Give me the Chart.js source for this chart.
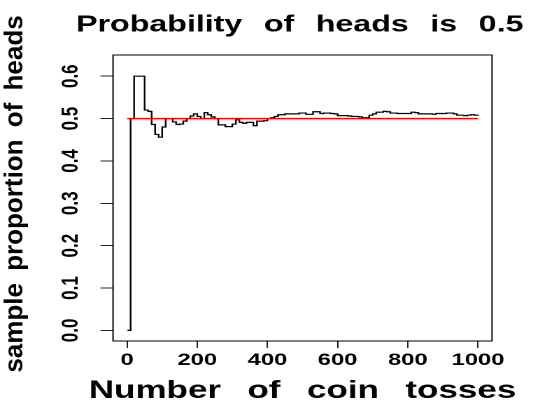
<!DOCTYPE html>
<html>
<head>
<meta charset="utf-8">
<script src="https://cdn.jsdelivr.net/npm/chart.js@4.4.1/dist/chart.umd.min.js"></script>
<style>
  html, body { margin: 0; padding: 0; background: #fff; }
  #coinChart { display: block; }
</style>
</head>
<body>
<!-- drawn narrow, then stretched sideways like the original picture -->
<canvas id="coinChart" width="381" height="407" style="width:533px;height:407px"></canvas>
<script>
const tosses = [1, 10, 20, 30, 40, 50, 60, 70, 80, 90, 100,
  110, 120, 130, 140, 150, 160, 170, 180, 190, 200,
  210, 220, 230, 240, 250, 260, 270, 280, 290, 300,
  310, 320, 330, 340, 350, 360, 370, 380, 390, 400,
  410, 420, 430, 440, 450, 460, 470, 480, 490, 500,
  510, 520, 530, 540, 550, 560, 570, 580, 590, 600,
  610, 620, 630, 640, 650, 660, 670, 680, 690, 700,
  710, 720, 730, 740, 750, 760, 770, 780, 790, 800,
  810, 820, 830, 840, 850, 860, 870, 880, 890, 900,
  910, 920, 930, 940, 950, 960, 970, 980, 990, 1000];
const propHeads = [0, 0.5, 0.6, 0.6, 0.6, 0.52, 0.517, 0.486, 0.4625, 0.456, 0.48,
  0.5, 0.5, 0.492, 0.486, 0.487, 0.494, 0.5, 0.506, 0.511, 0.505,
  0.5, 0.514, 0.509, 0.504, 0.5, 0.485, 0.485, 0.481, 0.481, 0.487,
  0.497, 0.491, 0.489, 0.491, 0.491, 0.483, 0.494, 0.494, 0.495, 0.5,
  0.502, 0.505, 0.509, 0.509, 0.511, 0.511, 0.511, 0.511, 0.513, 0.513,
  0.51, 0.51, 0.516, 0.516, 0.512, 0.513, 0.513, 0.512, 0.511, 0.507,
  0.507, 0.507, 0.506, 0.505, 0.505, 0.504, 0.502, 0.502, 0.508, 0.511,
  0.515, 0.515, 0.517, 0.516, 0.513, 0.513, 0.512, 0.512, 0.512, 0.512,
  0.515, 0.514, 0.511, 0.511, 0.511, 0.511, 0.51, 0.512, 0.512, 0.512,
  0.513, 0.513, 0.511, 0.508, 0.508, 0.507, 0.508, 0.509, 0.508, 0.509];
const refX = [0, 1000];
const refY = [0.5, 0.5];
const xTicks = [0, 200, 400, 600, 800, 1000];
const xTickLabels = ["0", "200", "400", "600", "800", "1000"];
const yTicks = [0, 0.1, 0.2, 0.3, 0.4, 0.5, 0.6];
const yTickLabels = ["0.0", "0.1", "0.2", "0.3", "0.4", "0.5", "0.6"];
const titleText = "Probability of heads is 0.5";
const xTitle = "Number of coin tosses";
const yTitle = "sample proportion of heads";

const stretch = 533 / 381;
const fam = '"Liberation Sans", Arial, sans-serif';

const rFrame = {
  id: "rFrame",
  afterDatasetsDraw(chart) {
    const a = chart.chartArea;
    const ctx = chart.ctx;
    ctx.save();
    ctx.strokeStyle = "#000";
    ctx.lineWidth = 1;
    ctx.strokeRect(a.left, a.top, a.right - a.left, a.bottom - a.top);
    ctx.restore();
  },
  afterDraw(chart) {
    const a = chart.chartArea;
    const ctx = chart.ctx;
    const mid = (a.left + a.right) / 2;
    ctx.save();
    ctx.fillStyle = "#000";
    ctx.textAlign = "center";
    ctx.textBaseline = "alphabetic";
    ctx.font = "bold 23px " + fam;
    ctx.wordSpacing = "9px";
    ctx.fillText(titleText, mid - 2, 31.5);
    ctx.font = "bold 25px " + fam;
    ctx.wordSpacing = "12px";
    ctx.fillText(xTitle, mid, 398);
    // y label is not stretched in the reference
    ctx.scale(1 / stretch, 1);
    ctx.translate(22.5, (a.top + a.bottom) / 2 - 4);
    ctx.rotate(-Math.PI / 2);
    ctx.font = "bold 26px " + fam;
    ctx.wordSpacing = "5px";
    ctx.fillText(yTitle, 0, 0);
    ctx.restore();
  }
};

const ctx = document.getElementById("coinChart").getContext("2d");
const coinChart = new Chart(ctx, {
  type: "line",
  data: {
    datasets: [
      {
        label: "p = 0.5",
        data: refX.map((x, i) => ({ x: x, y: refY[i] })),
        borderColor: "#ff0000",
        borderWidth: 1.4,
        pointRadius: 0,
        fill: false
      },
      {
        label: "sample proportion",
        data: tosses.map((x, i) => ({ x: x, y: propHeads[i] })),
        borderColor: "#000",
        borderWidth: 1.2,
        pointRadius: 0,
        stepped: true,
        fill: false
      }
    ]
  },
  options: {
    responsive: false,
    devicePixelRatio: 2,
    animation: false,
    layout: { padding: { left: 0, right: 29.3, top: 55, bottom: 0 } },
    plugins: {
      legend: { display: false },
      tooltip: { enabled: false },
      title: { display: false }
    },
    scales: {
      x: {
        type: "linear",
        min: -40,
        max: 1040,
        afterBuildTicks: (s) => { s.ticks = xTicks.map(v => ({ value: v })); },
        afterFit: (s) => { s.height = 66; },
        border: { display: false },
        grid: { display: true, drawOnChartArea: false, drawTicks: true, tickLength: 7, color: "#222", lineWidth: 1 },
        ticks: {
          autoSkip: false,
          maxRotation: 0,
          padding: 2,
          color: "#000",
          font: { family: fam, size: 17, weight: "bold" },
          callback: (v, i) => xTickLabels[i]
        }
      },
      y: {
        type: "linear",
        min: -0.025,
        max: 0.65,
        afterBuildTicks: (s) => { s.ticks = yTicks.map(v => ({ value: v })); },
        afterFit: (s) => { s.width = 80.8; },
        border: { display: false },
        grid: { display: true, drawOnChartArea: false, drawTicks: true, tickLength: 9, color: "#222", lineWidth: 1 },
        ticks: {
          autoSkip: false,
          minRotation: 90,
          maxRotation: 90,
          crossAlign: "center",
          padding: 9,
          color: "#000",
          font: { family: fam, size: 17, weight: "bold" },
          callback: (v, i) => yTickLabels[i]
        }
      }
    }
  },
  plugins: [rFrame]
});
</script>
</body>
</html>
